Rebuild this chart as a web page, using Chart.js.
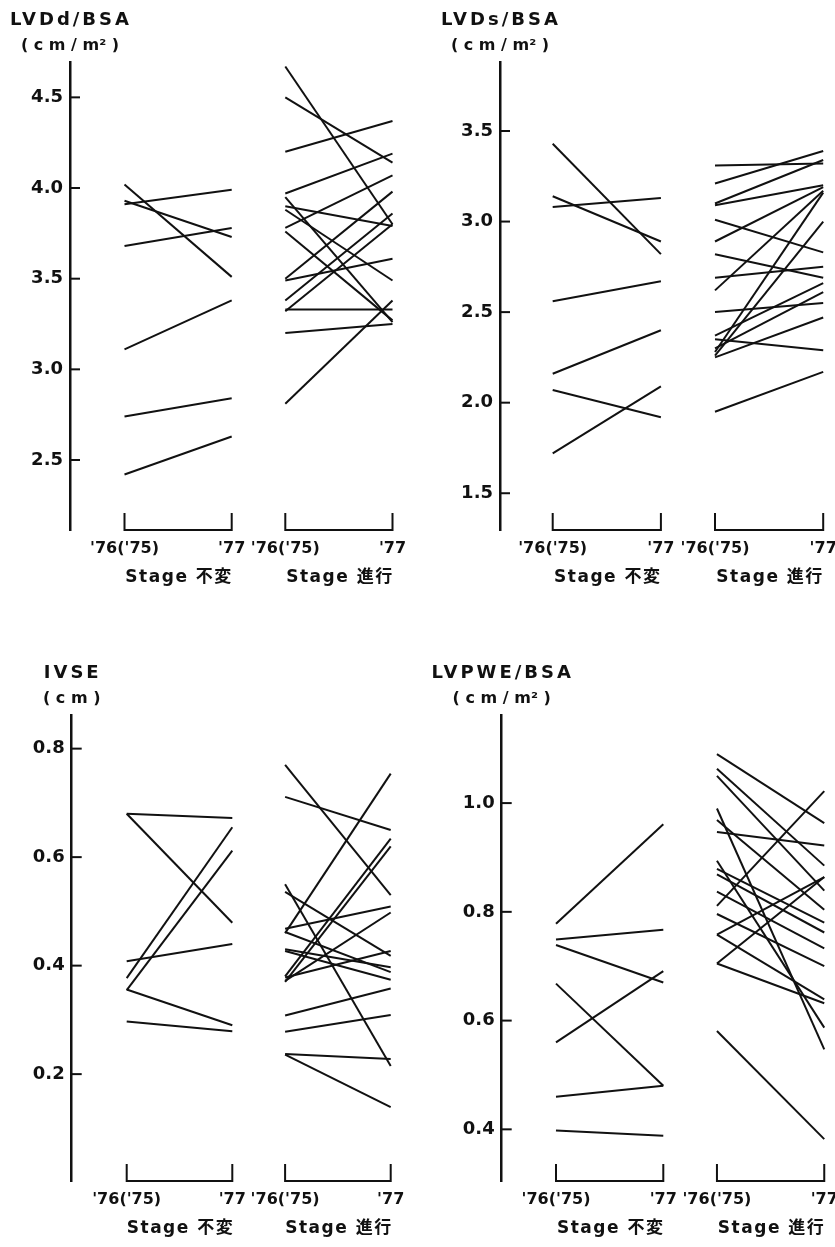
<!DOCTYPE html>
<html>
<head>
<meta charset="utf-8">
<script src="https://cdn.jsdelivr.net/npm/chart.js@4"></script>
<style>
  body { margin: 0; background: #fff; }
  canvas { position: absolute; }
</style>
</head>
<body>
<canvas id="lvdd" width="417" height="620" style="left:0px;top:0px"></canvas>
<canvas id="lvds" width="418" height="620" style="left:417px;top:0px"></canvas>
<canvas id="ivse" width="417" height="627" style="left:0px;top:620px"></canvas>
<canvas id="lvpwe" width="418" height="627" style="left:417px;top:620px"></canvas>
<script>
// categories
const xLabels = ["'76('75)", "'77"]
const groupNames = ['Stage 不変', 'Stage 進行']

// LVDd/BSA
const lvddStableStart = [4.02, 3.91, 3.93, 3.68, 3.11, 2.74, 2.42]
const lvddStableEnd = [3.51, 3.99, 3.73, 3.78, 3.38, 2.84, 2.63]
const lvddProgStart = [4.67, 4.50, 4.20, 3.97, 3.95, 3.90, 3.88, 3.78, 3.76, 3.50, 3.49, 3.38, 3.33, 3.32, 3.20, 2.81]
const lvddProgEnd = [3.80, 4.14, 4.37, 4.19, 3.26, 3.79, 3.49, 4.07, 3.27, 3.98, 3.61, 3.86, 3.33, 3.80, 3.25, 3.38]
const lvddTicks = [2.5, 3.0, 3.5, 4.0, 4.5]

// LVDs/BSA
const lvdsStableStart = [3.43, 3.14, 3.08, 2.56, 2.16, 2.07, 1.72]
const lvdsStableEnd = [2.82, 2.89, 3.13, 2.67, 2.40, 1.92, 2.09]
const lvdsProgStart = [3.31, 3.21, 3.10, 3.09, 3.01, 2.89, 2.82, 2.69, 2.62, 2.50, 2.37, 2.35, 2.30, 2.28, 2.26, 2.25, 1.95]
const lvdsProgEnd = [3.32, 3.39, 3.34, 3.20, 2.83, 3.19, 2.69, 2.75, 3.17, 2.55, 2.66, 2.29, 2.61, 3.16, 3.00, 2.47, 2.17]
const lvdsTicks = [1.5, 2.0, 2.5, 3.0, 3.5]

// IVSE
const ivseStableStart = [0.680, 0.680, 0.377, 0.355, 0.408, 0.356, 0.297]
const ivseStableEnd = [0.672, 0.479, 0.655, 0.612, 0.440, 0.290, 0.279]
const ivseProgStart = [0.770, 0.711, 0.550, 0.536, 0.460, 0.468, 0.462, 0.430, 0.427, 0.380, 0.370, 0.372, 0.378, 0.308, 0.278, 0.237, 0.236]
const ivseProgEnd = [0.530, 0.650, 0.215, 0.418, 0.754, 0.509, 0.388, 0.397, 0.374, 0.634, 0.620, 0.498, 0.427, 0.358, 0.309, 0.228, 0.139]
const ivseTicks = [0.2, 0.4, 0.6, 0.8]

// LVPWE/BSA
const lvpweStableStart = [0.778, 0.749, 0.739, 0.668, 0.560, 0.460, 0.398]
const lvpweStableEnd = [0.961, 0.767, 0.670, 0.480, 0.691, 0.480, 0.388]
const lvpweProgStart = [1.090, 1.063, 1.050, 0.990, 0.969, 0.947, 0.811, 0.894, 0.879, 0.869, 0.837, 0.796, 0.758, 0.758, 0.705, 0.705, 0.581]
const lvpweProgEnd = [0.963, 0.885, 0.839, 0.547, 0.804, 0.922, 1.022, 0.587, 0.780, 0.762, 0.733, 0.700, 0.864, 0.639, 0.864, 0.632, 0.382]
const lvpweTicks = [0.4, 0.6, 0.8, 1.0]

const FONT = '"DejaVu Sans", "Noto Sans CJK JP", sans-serif'
const INK = '#111'
// x positions of the two year pairs
const groupPos = [[0, 1], [1.5, 2.5]]

const decor = {
  id: 'decor',
  beforeDraw: chart => { chart.ctx.letterSpacing = '0px' },
  afterDraw: chart => {
    const opt = chart.options.plugins.decor
    const { ctx, chartArea: a } = chart
    const x = chart.scales.x
    const y = chart.scales.y
    ctx.save()
    ctx.strokeStyle = INK
    ctx.fillStyle = INK
    ctx.lineWidth = 2

    // short tick marks pointing into the plot
    y.ticks.forEach(t => {
      const py = y.getPixelForValue(t.value)
      ctx.beginPath()
      ctx.moveTo(a.left, py)
      ctx.lineTo(a.left + 10, py)
      ctx.stroke()
    })

    // bracket + group name under each pair
    ctx.textAlign = 'center'
    ctx.textBaseline = 'middle'
    groupPos.forEach((g, i) => {
      const x0 = x.getPixelForValue(g[0])
      const x1 = x.getPixelForValue(g[1])
      ctx.beginPath()
      ctx.moveTo(x0, a.bottom - 17)
      ctx.lineTo(x0, a.bottom)
      ctx.lineTo(x1, a.bottom)
      ctx.lineTo(x1, a.bottom - 17)
      ctx.stroke()
      ctx.font = 'bold 17px ' + FONT
      ctx.letterSpacing = '1.5px'
      ctx.fillText(groupNames[i], (x0 + x1) / 2 + 1, a.bottom + 48)
    })

    // measure name and unit above the axis
    ctx.font = 'bold 18px ' + FONT
    ctx.letterSpacing = '3px'
    ctx.fillText(opt.title, a.left + 1, a.top - 42)
    ctx.font = 'bold 16px ' + FONT
    ctx.letterSpacing = '0px'
    ctx.fillText(opt.unit, a.left, a.top - 16)
    ctx.restore()
  }
}

const pairs = (stableStart, stableEnd, progStart, progEnd) => {
  const sets = []
  stableStart.forEach((v, i) => sets.push([{ x: 0, y: v }, { x: 1, y: stableEnd[i] }]))
  progStart.forEach((v, i) => sets.push([{ x: 1.5, y: v }, { x: 2.5, y: progEnd[i] }]))
  return sets.map(d => ({
    data: d,
    borderColor: INK,
    borderWidth: 2,
    pointRadius: 0,
    tension: 0
  }))
}

const makeChart = (id, p) => {
  const ctx = document.getElementById(id).getContext('2d')
  const canvas = ctx.canvas
  const xMax = 2.55
  const xMin = (p.axisX - p.g0) / p.unit
  const right = p.g0 + xMax * p.unit
  return new Chart(ctx, {
    type: 'line',
    data: { datasets: pairs(p.s0, p.s1, p.p0, p.p1) },
    plugins: [decor],
    options: {
      responsive: false,
      animation: false,
      devicePixelRatio: 1,
      layout: { padding: { left: 0, top: p.top, right: canvas.width - right, bottom: 0 } },
      plugins: {
        legend: false,
        tooltip: { enabled: false },
        decor: { title: p.title, unit: p.unit_ }
      },
      scales: {
        x: {
          type: 'linear',
          min: xMin,
          max: xMax,
          grid: { display: false, drawTicks: false },
          border: { display: false },
          afterBuildTicks: s => { s.ticks = [0, 1, 1.5, 2.5].map(v => ({ value: v })) },
          afterFit: s => {
            s.height = canvas.height - p.bottom
            s.paddingLeft = 0
            s.paddingRight = 0
          },
          ticks: {
            autoSkip: false,
            maxRotation: 0,
            padding: 9,
            color: INK,
            font: { family: FONT, size: 16, weight: 'bold' },
            callback: (v, i) => xLabels[i % 2]
          }
        },
        y: {
          min: p.yMin,
          max: p.yMax,
          grid: { display: true, drawOnChartArea: false, drawTicks: false },
          border: { display: true, color: INK, width: 2.5 },
          afterBuildTicks: s => { s.ticks = p.ticks.map(v => ({ value: v })) },
          afterFit: s => {
            s.width = p.axisX
            s.paddingTop = 0
            s.paddingBottom = 0
          },
          ticks: {
            padding: 7,
            color: INK,
            font: { family: FONT, size: 18, weight: 'bold' },
            callback: v => v.toFixed(1)
          }
        }
      }
    }
  })
}

makeChart('lvdd', {
  title: 'LVDd/BSA', unit_: '( c m / m² )',
  s0: lvddStableStart, s1: lvddStableEnd, p0: lvddProgStart, p1: lvddProgEnd, ticks: lvddTicks,
  yMin: 2.114, yMax: 4.695, axisX: 70, g0: 124.5, unit: 107.2, top: 62, bottom: 530
})
makeChart('lvds', {
  title: 'LVDs/BSA', unit_: '( c m / m² )',
  s0: lvdsStableStart, s1: lvdsStableEnd, p0: lvdsProgStart, p1: lvdsProgEnd, ticks: lvdsTicks,
  yMin: 1.297, yMax: 3.881, axisX: 83, g0: 135.7, unit: 108.2, top: 62, bottom: 530
})
makeChart('ivse', {
  title: 'IVSE', unit_: '( c m )',
  s0: ivseStableStart, s1: ivseStableEnd, p0: ivseProgStart, p1: ivseProgEnd, ticks: ivseTicks,
  yMin: 0.003, yMax: 0.862, axisX: 71.7, g0: 126.7, unit: 105.6, top: 95, bottom: 561
})
makeChart('lvpwe', {
  title: 'LVPWE/BSA', unit_: '( c m / m² )',
  s0: lvpweStableStart, s1: lvpweStableEnd, p0: lvpweProgStart, p1: lvpweProgEnd, ticks: lvpweTicks,
  yMin: 0.305, yMax: 1.162, axisX: 84.7, g0: 139, unit: 107.3, top: 95, bottom: 561
})
</script>
</body>
</html>
